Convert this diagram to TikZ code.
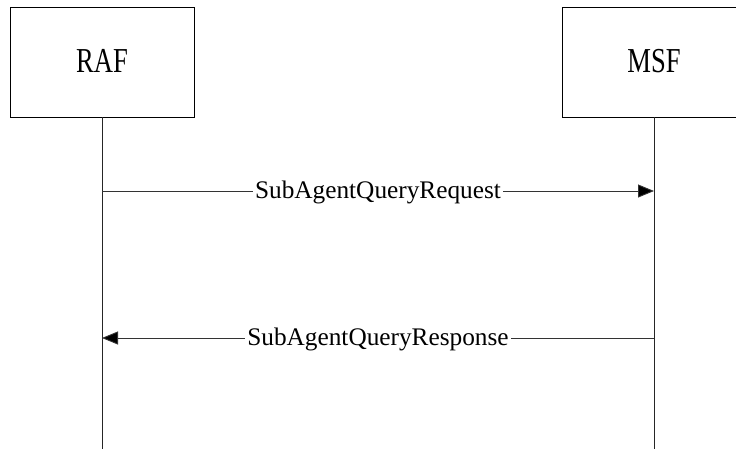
\documentclass[tikz,border=0pt]{standalone}
\usepackage{fontspec}
\setmainfont{Liberation Serif}
\usepackage{graphicx}
\usetikzlibrary{arrows.meta}
\tikzset{
  entity/.style={draw=black, line width=0.9pt, minimum width=184pt, minimum height=110pt, inner sep=0pt,
    font=\fontsize{35}{40}\selectfont},
  lifeline/.style={draw=black!85, line width=0.9pt},
  msg/.style={draw=black!80, line width=0.9pt, -{Triangle[length=16pt,width=13pt,fill=black]}},
  msglabel/.style={fill=white, inner xsep=2pt, inner ysep=0pt, anchor=base, yshift=-7.5pt,
    font=\fontsize{25.3}{30}\selectfont}
}
\begin{document}
\begin{tikzpicture}[x=1pt,y=-1pt]
\useasboundingbox (0,0) rectangle (736,448);
\begin{scope}
\clip (0,0) rectangle (736,448);
\node[entity] (raf) at (102,62) {\raisebox{3pt}{\scalebox{0.76}[1]{RAF}}};
\node[entity] (msf) at (654,62) {\raisebox{3pt}{\scalebox{0.76}[1]{MSF}}};
\coordinate (rafend) at (102,449);
\coordinate (msfend) at (654,449);
\draw[lifeline] (raf.south) -- (rafend);
\draw[lifeline] (msf.south) -- (msfend);
\coordinate (r1) at (102,191);
\coordinate (m1) at (654,191);
\coordinate (r2) at (102,338);
\coordinate (m2) at (654,338);
\draw[msg] (r1) -- node[msglabel] {SubAgentQueryRequest} (m1);
\draw[msg] (m2) -- node[msglabel] {SubAgentQueryResponse} (r2);
\end{scope}
\end{tikzpicture}
\end{document}
